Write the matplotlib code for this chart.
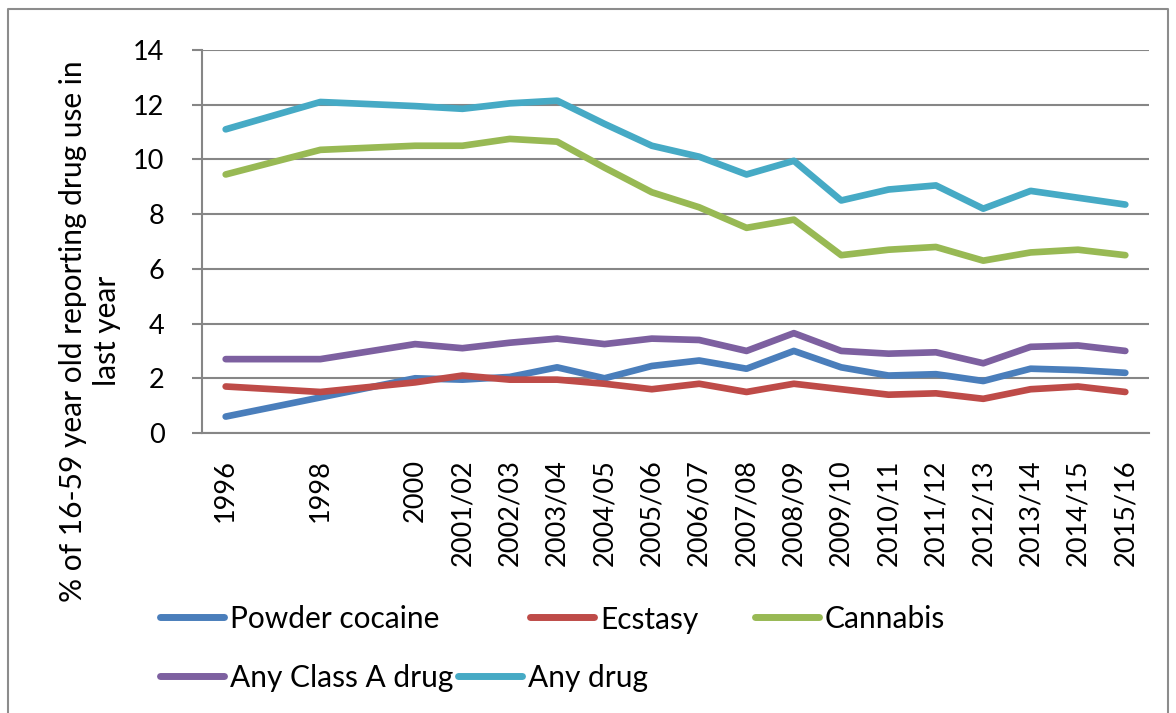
import matplotlib
matplotlib.use("Agg")
import matplotlib.pyplot as plt
from matplotlib.lines import Line2D

plt.rcParams["font.family"] = ["Lato", "DejaVu Sans"]

# Survey periods (Crime Survey for England and Wales)
periods = ["1996", "1998", "2000", "2001/02", "2002/03", "2003/04", "2004/05",
           "2005/06", "2006/07", "2007/08", "2008/09", "2009/10", "2010/11",
           "2011/12", "2012/13", "2013/14", "2014/15", "2015/16"]

# % of 16-59 year olds reporting use in the last year
powder_cocaine = [0.6, 1.3, 2.0, 1.95, 2.05, 2.4, 2.0, 2.45, 2.65, 2.35, 3.0,
                  2.4, 2.1, 2.15, 1.9, 2.35, 2.3, 2.2]
ecstasy = [1.7, 1.5, 1.85, 2.1, 1.95, 1.95, 1.8, 1.6, 1.8, 1.5, 1.8,
           1.6, 1.4, 1.45, 1.25, 1.6, 1.7, 1.5]
cannabis = [9.45, 10.35, 10.5, 10.5, 10.75, 10.65, 9.7, 8.8, 8.25, 7.5, 7.8,
            6.5, 6.7, 6.8, 6.3, 6.6, 6.7, 6.5]
any_class_a = [2.7, 2.7, 3.25, 3.1, 3.3, 3.45, 3.25, 3.45, 3.4, 3.0, 3.65,
               3.0, 2.9, 2.95, 2.55, 3.15, 3.2, 3.0]
any_drug = [11.1, 12.1, 11.95, 11.85, 12.05, 12.15, 11.3, 10.5, 10.1, 9.45, 9.95,
            8.5, 8.9, 9.05, 8.2, 8.85, 8.6, 8.35]

series_names = ["Powder cocaine", "Ecstasy", "Cannabis", "Any Class A drug", "Any drug"]
series_values = [powder_cocaine, ecstasy, cannabis, any_class_a, any_drug]
series_colors = ["#4A7EBB", "#BE4B48", "#98B954", "#7D60A0", "#46AAC5"]

# x position: first calendar year of each survey period
start_year = [int(p[:4]) for p in periods]

W, H = 1176, 713
fig = plt.figure(figsize=(W / 100, H / 100), dpi=100)
ax = fig.add_axes([202 / W, 1 - 433 / H, (1149 - 202) / W, (433 - 50) / H])

lines = {}
for name, vals, col in zip(series_names, series_values, series_colors):
    ln, = ax.plot(start_year, vals, color=col, lw=4.8,
                  solid_capstyle="round", solid_joinstyle="round", zorder=3)
    lines[name] = ln

grid_col = "#868686"
ax.set_ylim(0, 14)
ax.set_yticks(range(0, 15, 2))
ax.set_xlim(1995.5, 2015.5)
ax.set_xticks(start_year)
ax.set_xticklabels(periods, rotation=90, va="top", ha="center")
ax.yaxis.grid(True, color=grid_col, lw=1.5)
ax.set_axisbelow(True)
for side in ["top", "right"]:
    ax.spines[side].set_visible(False)
for side in ["left", "bottom"]:
    ax.spines[side].set_color(grid_col)
    ax.spines[side].set_linewidth(1.5)
ax.tick_params(axis="y", length=7, width=1.5, color=grid_col, pad=20,
               labelsize=19.5, labelcolor="#000000")
ax.tick_params(axis="x", length=0, pad=19, labelsize=19.5, labelcolor="#000000")

# Axis title, centred lower than the plot area
fig.text(90 / W, 1 - 331 / H,
         "% of 16-59 year old reporting drug use in\nlast year",
         rotation=90, ha="center", va="center", fontsize=21.5,
         linespacing=1.3, multialignment="center")

# Legend laid out in two rows below the chart
legend_rows = [
    [("Powder cocaine", 157, 617), ("Ecstasy", 527, 617), ("Cannabis", 752, 617)],
    [("Any Class A drug", 157, 676), ("Any drug", 455, 676)],
]
for row in legend_rows:
    for name, x0, y0 in row:
        yf = 1 - y0 / H
        fig.add_artist(Line2D([(x0 + 3) / W, (x0 + 67) / W], [yf, yf],
                              color=lines[name].get_color(), lw=5.0,
                              solid_capstyle="round", transform=fig.transFigure))
        fig.text((x0 + 73) / W, yf, name, ha="left", va="center_baseline",
                 fontsize=21.5, color="#000000")

# Chart frame
frame_col = "#8C8C8C"
fig.add_artist(Line2D([8 / W, 8 / W, 1168 / W, 1168 / W],
                      [0, 1 - 9 / H, 1 - 9 / H, 0],
                      color=frame_col, lw=1.5, transform=fig.transFigure))

fig.savefig("out.png", dpi=100, facecolor="white")
